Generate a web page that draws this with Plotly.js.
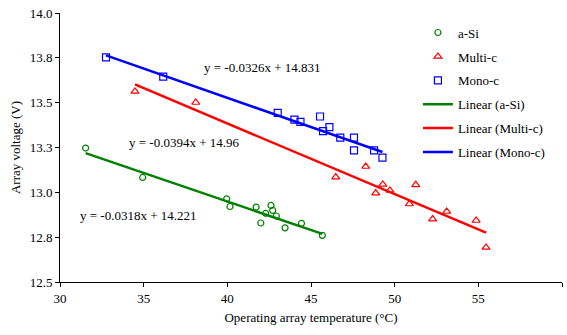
<!DOCTYPE html>
<html>
<head>
<meta charset="utf-8">
<script src="https://cdn.plot.ly/plotly-3.0.1.min.js"></script>
<style>html,body{margin:0;padding:0;background:#fff;}#chart{width:567px;height:335px;}</style>
</head>
<body>
<div id="chart"></div>
<script>
// a-Si (green circles)
const aSiT = [31.53, 34.94, 39.96, 40.16, 41.72, 42.0, 42.29, 42.61, 42.71, 42.93, 43.45, 44.43, 45.68];
const aSiV = [13.247, 13.083, 12.964, 12.921, 12.918, 12.829, 12.883, 12.927, 12.899, 12.868, 12.802, 12.827, 12.760];
// Multi-c (red triangles)
const multiT = [34.48, 38.11, 46.48, 48.27, 48.87, 49.29, 49.72, 50.88, 51.26, 52.27, 53.11, 54.87, 55.46];
const multiV = [13.563, 13.501, 13.085, 13.144, 12.996, 13.044, 13.011, 12.935, 13.042, 12.851, 12.893, 12.843, 12.693];
// Mono-c (blue squares)
const monoT = [32.75, 36.17, 43.01, 44.01, 44.37, 45.54, 45.72, 46.1, 46.75, 47.57, 47.57, 48.77, 49.27];
const monoV = [13.752, 13.645, 13.443, 13.405, 13.393, 13.423, 13.341, 13.364, 13.305, 13.305, 13.234, 13.234, 13.193];

const seriesNames = ['a-Si', 'Multi-c', 'Mono-c'];
const slopes = [-0.0318, -0.0394, -0.0326];
const intercepts = [14.221, 14.96, 14.831];
const eqTexts = ['y = -0.0318x + 14.221', 'y = -0.0394x + 14.96', 'y = -0.0326x + 14.831'];

const xTickVals = [30, 35, 40, 45, 50, 55, 60];
const yTickVals = [12.5, 12.75, 13.0, 13.25, 13.5, 13.75, 14.0];
const yTickText = ['12.5', '12.8', '13.0', '13.3', '13.5', '13.8', '14.0'];

const colors = ['#008000', '#ff0000', '#0000ff'];
const symbols = ['circle-open', 'triangle-up-open', 'square-open'];
const xs = [aSiT, multiT, monoT];
const ys = [aSiV, multiV, monoV];

const FONT = 'Liberation Serif, Times New Roman, serif';
const traces = [];
for (let i = 0; i < 3; i++) {
  traces.push({
    x: xs[i], y: ys[i], type: 'scatter', mode: 'markers', name: seriesNames[i],
    legendgroup: 'g' + i,
    marker: {symbol: symbols[i], color: colors[i], size: i === 0 ? 6 : 7, line: {width: 1.2, color: colors[i]}}
  });
}
for (let i = 0; i < 3; i++) {
  const xmin = Math.min(...xs[i]), xmax = Math.max(...xs[i]);
  traces.push({
    x: [xmin, xmax], y: [slopes[i] * xmin + intercepts[i], slopes[i] * xmax + intercepts[i]],
    type: 'scatter', mode: 'lines', name: 'Linear (' + seriesNames[i] + ')',
    legendgroup: 'l' + i,
    line: {color: colors[i], width: 2.5}
  });
}

const annPos = [[31.1, 12.872], [34.0, 13.277], [38.5, 13.695]];
const annotations = eqTexts.map((t, i) => ({
  x: annPos[i][0], y: annPos[i][1], xref: 'x', yref: 'y', text: t, showarrow: false,
  xanchor: 'left', yanchor: 'middle', font: {family: FONT, size: 13, color: '#000'}
}));

const layout = {
  width: 567, height: 335,
  margin: {l: 60, r: 5, t: 13, b: 53},
  paper_bgcolor: '#fff', plot_bgcolor: '#fff',
  font: {family: FONT, size: 13, color: '#000'},
  showlegend: true,
  legend: {x: 0.713, y: 0.983, xanchor: 'left', yanchor: 'top', bgcolor: 'rgba(0,0,0,0)',
           font: {family: FONT, size: 13, color: '#000'}, traceorder: 'grouped', tracegroupgap: 4},
  xaxis: {
    range: [30, 60], tickvals: xTickVals, showgrid: false, zeroline: false,
    showline: true, linecolor: '#000', linewidth: 1, ticks: 'outside', ticklen: 4, tickcolor: '#000',
    tickfont: {family: FONT, size: 13},
    title: {text: 'Operating array temperature (°C)', font: {family: FONT, size: 13}, standoff: 8}
  },
  yaxis: {
    range: [12.5, 14.0], tickvals: yTickVals, ticktext: yTickText, showgrid: false, zeroline: false,
    showline: true, linecolor: '#000', linewidth: 1, ticks: 'outside', ticklen: 4, tickcolor: '#000',
    tickfont: {family: FONT, size: 13},
    title: {text: 'Array voltage (V)', font: {family: FONT, size: 13}, standoff: 6}
  },
  annotations: annotations
};

Plotly.newPlot('chart', traces, layout, {displayModeBar: false, staticPlot: true});
</script>
</body>
</html>
